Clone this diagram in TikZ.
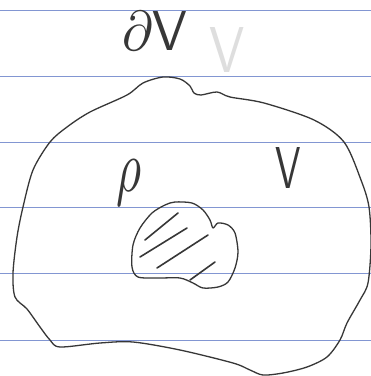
\documentclass[tikz,border=0pt]{standalone}
\usepackage{graphicx}
\definecolor{rule}{RGB}{130,150,210}
\definecolor{pen}{RGB}{55,55,55}
\definecolor{faint}{RGB}{222,222,222}
\tikzset{
  ruleline/.style={rule, line width=1pt},
  outline/.style={pen, line width=1.3pt, line join=round},
  hatch/.style={pen, line width=1.6pt, line cap=round},
  label/.style={inner sep=0pt, anchor=north west, text=pen},
}
\begin{document}
\begin{tikzpicture}[x=1pt,y=-1pt]
\useasboundingbox (0,0) rectangle (371,376);
\fill[white] (0,0) rectangle (371,376);
% ruled paper lines
\foreach \yy in {10,76,142,207,273,340}
  \draw[ruleline] (0,\yy) -- (371,\yy);
% region V
\draw[outline] plot[smooth cycle, tension=0.5] coordinates {
 (163,77) (180,79) (190,86) (194,93) (201,95) (217,92) (230,97) (264,103)
 (314,120) (344,142) (361,180) (369,207) (371,245) (368,283) (360,300)
 (347,323) (340,340) (327,357) (307,367) (283,373) (263,375) (250,370)
 (233,363) (180,350) (133,342) (100,343) (60,347) (50,340) (40,327)
 (27,309) (15,297) (13,273) (17,237) (23,207) (33,170) (50,142) (67,127)
 (90,112) (127,95) (143,83)};
% shaded blob
\draw[outline] plot[smooth cycle, tension=0.5] coordinates {
 (175,202) (192,203) (203,210) (210,220) (213,228) (218,223) (228,225)
 (235,233) (238,252) (235,268) (228,282) (218,287) (203,288) (193,283)
 (180,278) (158,278) (138,277) (132,267) (133,245) (140,228) (152,213)
 (165,205)};
\coordinate (h1a) at (178,213); \coordinate (h1b) at (145,240);
\coordinate (h2a) at (187,228); \coordinate (h2b) at (140,257);
\coordinate (h3a) at (208,235); \coordinate (h3b) at (157,268);
\coordinate (h4a) at (215,262); \coordinate (h4b) at (190,280);
\draw[hatch] (h1a) -- (h1b);
\draw[hatch] (h2a) -- (h2b);
\draw[hatch] (h3a) -- (h3b);
\draw[hatch] (h4a) -- (h4b);
% labels
\node[label] (dV) at (122,11) {\resizebox{66pt}{39pt}{$\partial\mathsf{V}$}};
\node[label, text=faint] (ghost) at (209,27) {\resizebox{36pt}{45pt}{$\mathsf{V}$}};
\node[label] (rho) at (116,160) {\resizebox*{25pt}{46pt}{$\rho$}};
\node[label] (V) at (275,147) {\resizebox{26pt}{41pt}{$\mathsf{V}$}};
\end{tikzpicture}
\end{document}
